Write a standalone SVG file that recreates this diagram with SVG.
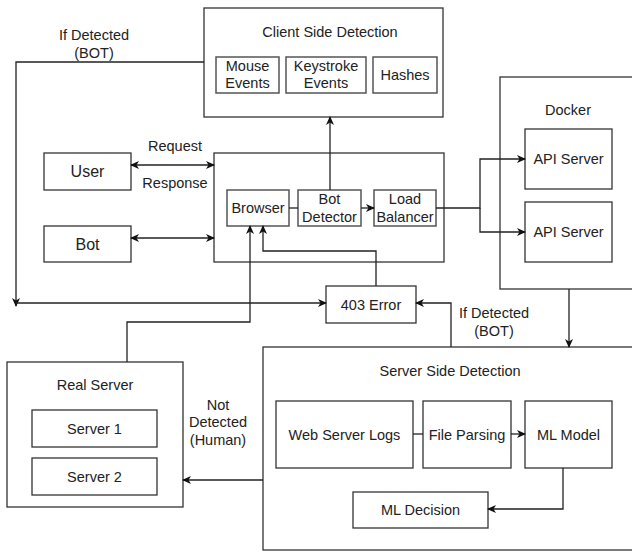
<svg xmlns="http://www.w3.org/2000/svg" width="632" height="552" viewBox="0 0 632 552">
<defs>
<marker id="arr" markerWidth="10" markerHeight="10" refX="8" refY="4" orient="auto-start-reverse" markerUnits="userSpaceOnUse">
<path d="M0,0 L9,4 L0,8 L2.5,4 z" fill="#111"/>
</marker>
<style>
.box{fill:#fff;stroke:#333;stroke-width:1.3}
.inner{fill:#fff;stroke:#555;stroke-width:1.5}
.t{font-family:"Liberation Sans",Arial,sans-serif;font-size:14.5px;fill:#222;text-anchor:middle;dominant-baseline:central}
.big{font-size:16px}
.c{fill:none;stroke:#222;stroke-width:1.3}
.a{marker-end:url(#arr)}
.b{marker-start:url(#arr);marker-end:url(#arr)}
</style>
</defs>
<rect width="632" height="552" fill="#fff"/>

<g id="client-side">
<rect class="box" x="204" y="8" width="239" height="109"/>
<text class="t" x="330" y="32">Client Side Detection</text>
</g>
<g id="mouse-events">
<rect class="inner" x="216" y="57" width="63" height="36"/>
<text class="t" x="247.5" y="66">Mouse</text>
<text class="t" x="247.5" y="83">Events</text>
</g>
<g id="keystroke-events">
<rect class="inner" x="286" y="57" width="80" height="36"/>
<text class="t" x="326" y="66">Keystroke</text>
<text class="t" x="326" y="83">Events</text>
</g>
<g id="hashes">
<rect class="inner" x="373" y="57" width="64" height="36"/>
<text class="t" x="405" y="75">Hashes</text>
</g>

<g id="user">
<rect class="box" x="44" y="153" width="87" height="37"/>
<text class="t big" x="87.5" y="171.5">User</text>
</g>
<g id="bot">
<rect class="box" x="44" y="226" width="87" height="36"/>
<text class="t big" x="87.5" y="244">Bot</text>
</g>

<g id="web-container">
<rect class="box" x="214" y="153" width="230" height="109"/>
</g>
<g id="browser">
<rect class="inner" x="227" y="190" width="62" height="36"/>
<text class="t" x="258" y="208">Browser</text>
</g>
<g id="bot-detector">
<rect class="inner" x="298" y="190" width="63" height="36"/>
<text class="t" x="329.5" y="199">Bot</text>
<text class="t" x="329.5" y="217">Detector</text>
</g>
<g id="load-balancer">
<rect class="inner" x="374" y="190" width="62" height="36"/>
<text class="t" x="405" y="199">Load</text>
<text class="t" x="405" y="217">Balancer</text>
</g>

<g id="docker">
<rect class="box" x="500" y="77" width="150" height="212"/>
<text class="t" x="568" y="110">Docker</text>
</g>
<g id="api-server-1">
<rect class="box" x="525" y="129" width="87" height="60"/>
<text class="t" x="568.5" y="159">API Server</text>
</g>
<g id="api-server-2">
<rect class="box" x="525" y="202" width="87" height="60"/>
<text class="t" x="568.5" y="232">API Server</text>
</g>

<g id="error-403">
<rect class="box" x="326" y="286" width="90" height="37"/>
<text class="t" x="371" y="304.5">403 Error</text>
</g>

<g id="real-server">
<rect class="box" x="7" y="362" width="176" height="145"/>
<text class="t" x="95" y="385">Real Server</text>
</g>
<g id="server-1">
<rect class="box" x="32" y="410" width="125" height="37"/>
<text class="t" x="94.5" y="428.5">Server 1</text>
</g>
<g id="server-2">
<rect class="box" x="32" y="458" width="125" height="37"/>
<text class="t" x="94.5" y="476.5">Server 2</text>
</g>

<g id="server-side">
<rect class="box" x="263" y="347" width="390" height="203"/>
<text class="t" x="450" y="371">Server Side Detection</text>
</g>
<g id="web-server-logs">
<rect class="box" x="276" y="401" width="137" height="67"/>
<text class="t" x="344.5" y="434.5">Web Server Logs</text>
</g>
<g id="file-parsing">
<rect class="box" x="423" y="401" width="88" height="67"/>
<text class="t" x="467" y="434.5">File Parsing</text>
</g>
<g id="ml-model">
<rect class="box" x="525" y="401" width="87" height="67"/>
<text class="t" x="568.5" y="434.5">ML Model</text>
</g>
<g id="ml-decision">
<rect class="box" x="353" y="492" width="135" height="36"/>
<text class="t" x="420.5" y="510">ML Decision</text>
</g>

<g id="connectors">
<path class="c a" d="M204,62 H16 V306"/>
<path class="c a" d="M16,303 H326"/>
<path class="c a" d="M330,190 V117"/>
<path class="c b" d="M131,165 H214"/>
<path class="c b" d="M131,238 H214"/>
<path class="c" d="M289,208 H298"/>
<path class="c a" d="M361,208 H374"/>
<path class="c a" d="M436,208 H480 V159 H525"/>
<path class="c a" d="M480,208 V232 H525"/>
<path class="c a" d="M569,289 V347"/>
<path class="c a" d="M451,347 V303 H416"/>
<path class="c a" d="M376,286 V251 H263 V226"/>
<path class="c a" d="M127,362 V322 H250 V226"/>
<path class="c a" d="M263,480 H183"/>
<path class="c" d="M413,434 H423"/>
<path class="c a" d="M511,434 H525"/>
<path class="c a" d="M563,468 V509 H488"/>
</g>

<g id="labels">
<text class="t" x="94" y="35">If Detected</text>
<text class="t" x="94" y="53">(BOT)</text>
<text class="t" x="175" y="146">Request</text>
<text class="t" x="175" y="183">Response</text>
<text class="t" x="494" y="313">If Detected</text>
<text class="t" x="494" y="331">(BOT)</text>
<text class="t" x="218" y="405">Not</text>
<text class="t" x="218" y="422">Detected</text>
<text class="t" x="218" y="440">(Human)</text>
</g>
</svg>
